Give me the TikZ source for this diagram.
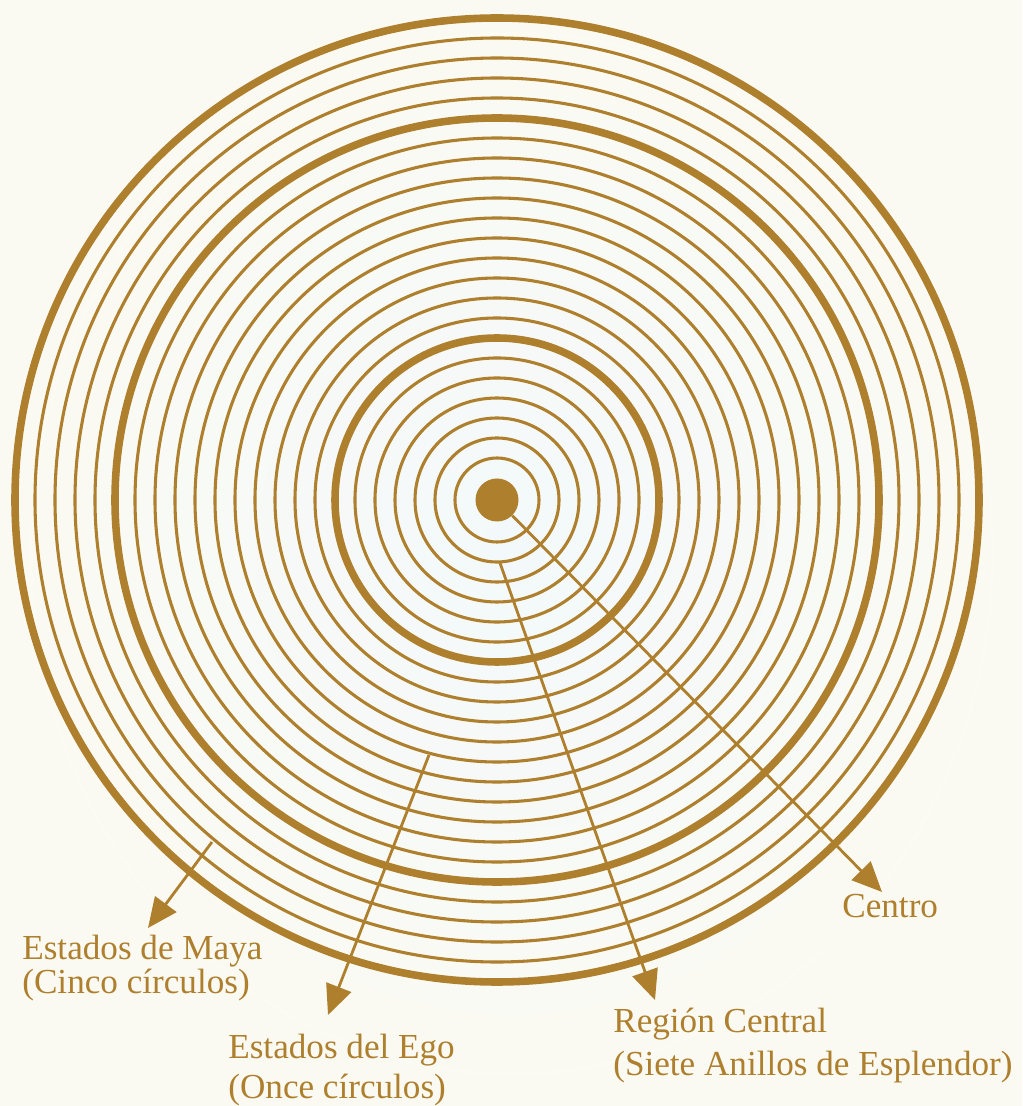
\documentclass[tikz,border=0pt]{standalone}
\usepackage{fontspec}
\setmainfont{Liberation Serif}
\usetikzlibrary{arrows.meta}
\definecolor{oro}{RGB}{174,127,45}
\definecolor{fondo}{RGB}{251,250,242}
\definecolor{fondoc}{RGB}{243,249,251}
\tikzset{
  anillo/.style={draw=oro,line width=1.75pt},
  anillog/.style={draw=oro,line width=4.3pt},
  flecha/.style={draw=oro,line width=1.6pt,-{Triangle[length=17pt,width=15pt]}},
  rotulo/.style={text=oro,font=\fontsize{20}{19.3}\selectfont,align=left,inner sep=0pt,anchor=north west}
}
\begin{document}
\begin{tikzpicture}
\shade[inner color=fondoc,outer color=fondo] (-9.94,-12.12) rectangle (10.5,10);
\useasboundingbox (-9.94,-12.12) rectangle (10.5,10);
\foreach \k in {0,...,22}{
  \pgfmathsetmacro{\r}{9.64-0.4*\k}
  \draw[anillo] (0,0) circle (\r);
}
\foreach \r in {9.64,7.64,3.24} \draw[anillog] (0,0) circle (\r);
\node[circle,fill=oro,inner sep=0pt,minimum size=0.86cm] (centro) at (0,0) {};
\coordinate (maya) at (-5.7,-6.84);
\coordinate (ego) at (-1.36,-5.1);
\coordinate (region) at (0.06,-1.26);
\coordinate (tipmaya) at (-6.98,-8.56);
\coordinate (tipego) at (-3.38,-10.3);
\coordinate (tipregion) at (3.16,-10.0);
\coordinate (tipcentro) at (7.7,-7.84);
\draw[flecha] (maya) -- (tipmaya);
\draw[flecha] (ego) -- (tipego);
\draw[flecha] (region) -- (tipregion);
\draw[flecha] (centro) -- (tipcentro);
\node[rotulo] (lblmaya) at (-9.5,-8.7) {Estados de Maya\\(Cinco círculos)};
\node[rotulo] (lblego) at (-5.38,-10.68) {Estados del Ego\\[3.4pt](Once círculos)};
\node[rotulo] (lblregion) at (2.32,-10.16) {Región Central\\[5.1pt](Siete Anillos de Esplendor)};
\node[rotulo] (lblcentro) at (6.9,-7.88) {Centro};
\end{tikzpicture}
\end{document}
